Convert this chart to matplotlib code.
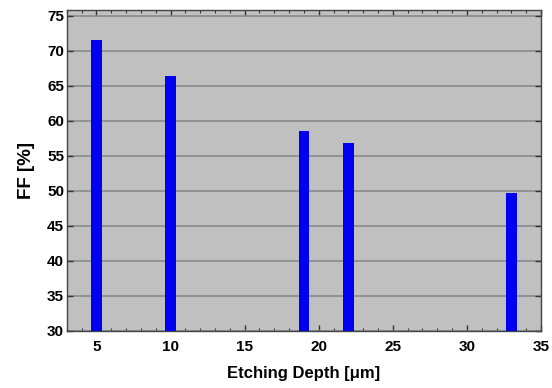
import numpy as np
import matplotlib
matplotlib.use("Agg")
import matplotlib.pyplot as plt
from matplotlib.ticker import MultipleLocator

# ========= DATA =========
depth_um = [5, 10, 19, 22, 33]
ff_pct = [71.5, 66.4, 58.6, 56.9, 49.7]

# ========= STYLE =========
plt.rcParams['font.family'] = ['Liberation Sans', 'DejaVu Sans']
plt.rcParams['font.weight'] = 'bold'

fig = plt.figure(figsize=(5.52, 3.88), dpi=100)
ax = fig.add_axes([0.121, 0.147, 0.859, 0.827])
ax.set_facecolor("#c0c0c0")

ax.bar(depth_um, ff_pct, width=0.7, color="#0000f0", zorder=3)

ax.set_xlim(3, 35)
ax.set_ylim(30, 75.8)
ax.xaxis.set_major_locator(MultipleLocator(5))
ax.xaxis.set_minor_locator(MultipleLocator(1))
ax.yaxis.set_major_locator(MultipleLocator(5))

ax.grid(axis="y", color="#8a8a8a", linewidth=1.2, zorder=1)
ax.tick_params(which="both", direction="in", top=True, right=True, labelsize=11, color="#333333")
ax.tick_params(which="major", length=4, width=1)
ax.tick_params(which="minor", length=2.5, width=0.8)
ax.tick_params(axis="x", pad=6.5)
ax.tick_params(axis="y", pad=2)
for s in ax.spines.values():
    s.set_color("#444444")
    s.set_linewidth(1)
for lab in ax.get_xticklabels() + ax.get_yticklabels():
    lab.set_fontweight("bold")

ax.set_xlabel("Etching Depth [\u03bcm]", fontsize=12, fontweight="bold", labelpad=9)
ax.set_ylabel("FF [%]", fontsize=13.5, fontweight="bold", labelpad=9)

fig.savefig("out.png", dpi=100, facecolor="white")
